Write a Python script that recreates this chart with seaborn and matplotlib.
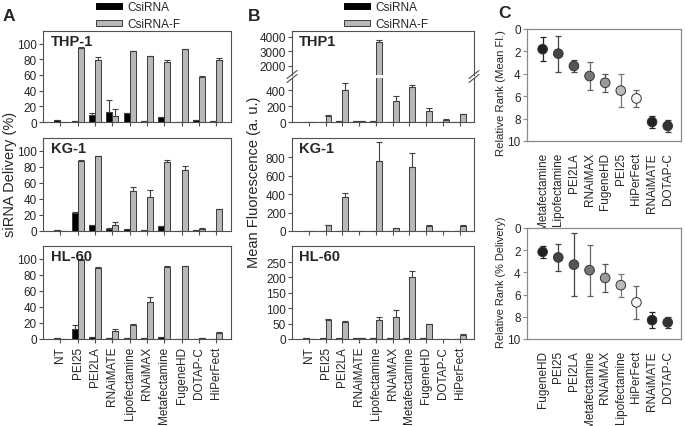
import numpy as np
import pandas as pd
import matplotlib
matplotlib.use("Agg")
import matplotlib.pyplot as plt
import seaborn as sns
from matplotlib.patches import Patch
from matplotlib.lines import Line2D

sns.set_theme(style="white")
plt.rcParams['font.family'] = ['Liberation Sans', 'DejaVu Sans']

reagents = ["NT", "PEI25", "PEI2LA", "RNAiMATE", "Lipofectamine", "RNAiMAX",
            "Metafectamine", "FugeneHD", "DOTAP-C", "HiPerFect"]
series = ["CsiRNA", "CsiRNA-F"]

# A: siRNA delivery (%)
thp1_del_c = [2, 1, 9, 13, 11, 1, 6, 0, 2, 1]
thp1_del_c_err = [0.3, 0.3, 2, 15, 0.5, 0.2, 0.5, 0, 0.3, 0.2]
thp1_del_f = [0, 94, 79, 8, 90, 84, 76, 93, 58, 79]
thp1_del_f_err = [0, 1, 4, 8, 0.5, 0.5, 3, 0.5, 0.5, 2]

kg1_del_c = [1, 22, 7, 3, 2, 1, 6, 0.5, 1, 0.5]
kg1_del_c_err = [0, 2, 1, 0.5, 0.3, 0.2, 0.3, 0, 0.3, 0]
kg1_del_f = [0.5, 87, 93, 8, 50, 43, 86, 76, 3, 27]
kg1_del_f_err = [0, 1, 0.5, 3, 5, 8, 2, 5, 1, 0.5]

hl60_del_c = [1.5, 12, 2, 1.5, 1, 1, 2, 0.5, 0.5, 0.5]
hl60_del_c_err = [0.2, 5, 0.3, 0.3, 0.2, 0.2, 0.3, 0, 0, 0]
hl60_del_f = [0, 99, 89, 10, 18, 46, 90, 91, 1, 8]
hl60_del_f_err = [0, 0.5, 1, 2, 0.3, 6, 0.5, 0.5, 0.2, 0.3]

# B: mean fluorescence (a.u.)
thp1_fl_c = [3, 3, 8, 10, 8, 3, 5, 3, 3, 3]
thp1_fl_c_err = [0] * 10
thp1_fl_f = [0, 75, 395, 10, 3650, 260, 440, 140, 30, 100]
thp1_fl_f_err = [0, 8, 90, 2, 130, 60, 20, 30, 5, 5]

kg1_fl_c = [1, 2, 2, 1, 2, 2, 2, 2, 1, 2]
kg1_fl_c_err = [0] * 10
kg1_fl_f = [0, 65, 370, 0, 760, 30, 700, 50, 0, 55]
kg1_fl_f_err = [0, 5, 40, 0, 210, 5, 150, 10, 0, 15]

hl60_fl_c = [3, 3, 2, 2, 2, 2, 2, 2, 1, 1]
hl60_fl_c_err = [0] * 10
hl60_fl_f = [0, 63, 55, 3, 63, 70, 200, 48, 1, 14]
hl60_fl_f_err = [0, 2, 3, 0.5, 10, 23, 22, 2, 0.5, 1]

# C: relative ranks
rank_fl_names = ["Metafectamine", "Lipofectamine", "PEI2LA", "RNAiMAX", "FugeneHD",
                 "PEI25", "HiPerFect", "RNAiMATE", "DOTAP-C"]
rank_fl = [1.8, 2.2, 3.3, 4.2, 4.8, 5.5, 6.2, 8.3, 8.65]
rank_fl_err = [1.05, 1.6, 0.55, 1.25, 0.8, 1.5, 0.75, 0.55, 0.55]

rank_del_names = ["FugeneHD", "PEI25", "PEI2LA", "Metafectamine", "RNAiMAX",
                  "Lipofectamine", "HiPerFect", "RNAiMATE", "DOTAP-C"]
rank_del = [2.15, 2.65, 3.3, 3.8, 4.5, 5.15, 6.7, 8.3, 8.5]
rank_del_err = [0.55, 1.25, 2.85, 2.3, 1.3, 1.05, 1.5, 0.75, 0.5]

marker_greys = ["#222222", "#444444", "#555555", "#777777", "#999999",
                "#bbbbbb", "#f8f8f8", "#222222", "#333333"]
err_greys = ["#222222", "#444444", "#444444", "#666666", "#555555",
             "#777777", "#666666", "#222222", "#333333"]

BLACK = "#000000"
GREY = "#b8b8b8"
EDGE = "#3a3a3a"
FS = 8.5

W, H = 685, 427
fig = plt.figure(figsize=(W / 100, H / 100), dpi=100)


def rect(x0, x1, y0, y1):
    # pixel box -> figure fraction
    return [x0 / W, 1 - y1 / H, (x1 - x0) / W, (y1 - y0) / H]


def style_box(ax, ylim, yticks, show_labels):
    ax.set_xlim(-1.0, 9.85)
    ax.set_ylim(*ylim)
    ax.set_yticks(yticks)
    ax.set_xlabel("")
    ax.set_ylabel("")
    for s in ax.spines.values():
        s.set_color("#505050")
        s.set_linewidth(0.8)
    ax.tick_params(axis="y", left=True, direction="out", length=3, width=0.8,
                   color="#505050", labelsize=FS, pad=1.5)
    ax.tick_params(axis="x", bottom=True, direction="out", length=3, width=0.8,
                   color="#505050", labelsize=FS, pad=2)
    ax.set_xticks(range(len(reagents)))
    if show_labels:
        ax.set_xticklabels(reagents, rotation=90)
    else:
        ax.set_xticklabels([])


def bars(ax, c, c_err, f, f_err):
    df = pd.DataFrame({"Reagent": reagents * 2,
                       "Series": [series[0]] * 10 + [series[1]] * 10,
                       "Value": list(c) + list(f)})
    sns.barplot(data=df, x="Reagent", y="Value", hue="Series", order=reagents,
                hue_order=series, palette=[BLACK, GREY], edgecolor=EDGE,
                linewidth=0.7, width=0.7, errorbar=None, legend=False, ax=ax)
    for cont, err in zip(ax.containers, [c_err, f_err]):
        xs = [b.get_x() + b.get_width() / 2 for b in cont]
        ys = [b.get_height() for b in cont]
        ax.errorbar(xs, ys, yerr=[np.zeros(len(err)), err], fmt="none",
                    ecolor="#404040", elinewidth=0.8, capsize=2, capthick=0.8)


def title(ax, txt, y=0.97):
    ax.text(0.04, y, txt, transform=ax.transAxes, ha="left", va="top",
            fontsize=10.5, fontweight="bold")


rows = [(32, 123), (139, 232), (247, 340)]

# ---- panel A
del_sets = [("THP-1", thp1_del_c, thp1_del_c_err, thp1_del_f, thp1_del_f_err),
            ("KG-1", kg1_del_c, kg1_del_c_err, kg1_del_f, kg1_del_f_err),
            ("HL-60", hl60_del_c, hl60_del_c_err, hl60_del_f, hl60_del_f_err)]
for i, (name, c, ce, f, fe) in enumerate(del_sets):
    ax = fig.add_axes(rect(43, 231, *rows[i]))
    bars(ax, c, ce, f, fe)
    style_box(ax, (0, 116), range(0, 101, 20), i == 2)
    title(ax, name)

# ---- panel B
# THP1 with broken axis
ax_hi = fig.add_axes(rect(292, 474, 32, 76))
ax_lo = fig.add_axes(rect(292, 474, 79, 123))
for ax in (ax_hi, ax_lo):
    bars(ax, thp1_fl_c, thp1_fl_c_err, thp1_fl_f, thp1_fl_f_err)
style_box(ax_hi, (1380, 4410), [2000, 3000, 4000], False)
style_box(ax_lo, (0, 550), [0, 200, 400], False)
ax_hi.spines["bottom"].set_visible(False)
ax_hi.tick_params(axis="x", bottom=False)
ax_lo.spines["top"].set_visible(False)
title(ax_hi, "THP1", y=0.94)
for xp in (292, 474):
    for dy in (-2, 2):
        fig.add_artist(Line2D([(xp - 5) / W, (xp + 5) / W],
                              [1 - (77.5 + dy + 4) / H, 1 - (77.5 + dy - 4) / H],
                              color="#505050", lw=0.8))

fl_sets = [("KG-1", kg1_fl_c, kg1_fl_c_err, kg1_fl_f, kg1_fl_f_err, (0, 1010), range(0, 801, 200)),
           ("HL-60", hl60_fl_c, hl60_fl_c_err, hl60_fl_f, hl60_fl_f_err, (0, 302), range(0, 251, 50))]
for i, (name, c, ce, f, fe, yl, yt) in enumerate(fl_sets):
    ax = fig.add_axes(rect(292, 474, *rows[i + 1]))
    bars(ax, c, ce, f, fe)
    style_box(ax, yl, yt, i == 1)
    title(ax, name)


# ---- panel C
def rank_panel(ax, names, vals, errs):
    sns.scatterplot(x=names, y=vals, hue=names, palette=dict(zip(names, marker_greys)),
                    s=48, edgecolor="#333333", linewidth=0.7, legend=False,
                    zorder=3, ax=ax)
    for i, (v, e) in enumerate(zip(vals, errs)):
        ax.errorbar(i, v, yerr=e, fmt="none", ecolor=err_greys[i],
                    elinewidth=0.9, capsize=2.5, capthick=0.9, zorder=2)
    ax.set_ylim(10, 0)
    ax.set_yticks(range(0, 11, 2))
    ax.set_xlim(-1, 8.85)
    ax.set_xticks(range(len(names)))
    ax.set_xticklabels(names, rotation=90)
    for s in ax.spines.values():
        s.set_color("#8a8a8a")
        s.set_linewidth(0.9)
    ax.tick_params(axis="y", left=True, direction="out", length=3, width=0.8,
                   color="#8a8a8a", labelsize=FS, pad=1.5)
    ax.tick_params(axis="x", bottom=False, labelsize=FS, pad=2)
    ax.set_xlabel("")
    ax.set_ylabel("")


axc1 = fig.add_axes(rect(527, 681, 30, 142))
rank_panel(axc1, rank_fl_names, rank_fl, rank_fl_err)
axc2 = fig.add_axes(rect(527, 681, 229, 340))
rank_panel(axc2, rank_del_names, rank_del, rank_del_err)

# ---- labels
fig.text(10 / W, 1 - 174 / H, "siRNA Delivery (%)", rotation=90, ha="center",
         va="center", fontsize=10.5)
fig.text(254 / W, 1 - 182 / H, "Mean Fluorescence (a. u.)", rotation=90,
         ha="center", va="center", fontsize=10.5)
fig.text(501 / W, 1 - 93 / H, "Relative Rank (Mean Fl.)", rotation=90,
         ha="center", va="center", fontsize=8.2)
fig.text(501 / W, 1 - 282 / H, "Relative Rank (% Delivery)", rotation=90,
         ha="center", va="center", fontsize=7.9)

for lbl, xp, yp in (("A", 3, 21), ("B", 248, 21), ("C", 498, 18)):
    fig.text(xp / W, 1 - yp / H, lbl, fontsize=12.5, fontweight="bold",
             ha="left", va="baseline")

handles = [Patch(facecolor=BLACK, edgecolor=BLACK, lw=0.7),
           Patch(facecolor=GREY, edgecolor=EDGE, lw=0.7)]
for xp in (96, 344):
    fig.legend(handles, series, loc="upper left", bbox_to_anchor=(xp / W, 1 - 2 / H),
               frameon=False, fontsize=FS, handlelength=2.2, handleheight=0.45,
               handletextpad=0.45, labelspacing=0.45, borderpad=0, borderaxespad=0)

fig.savefig("out.png", dpi=100)
